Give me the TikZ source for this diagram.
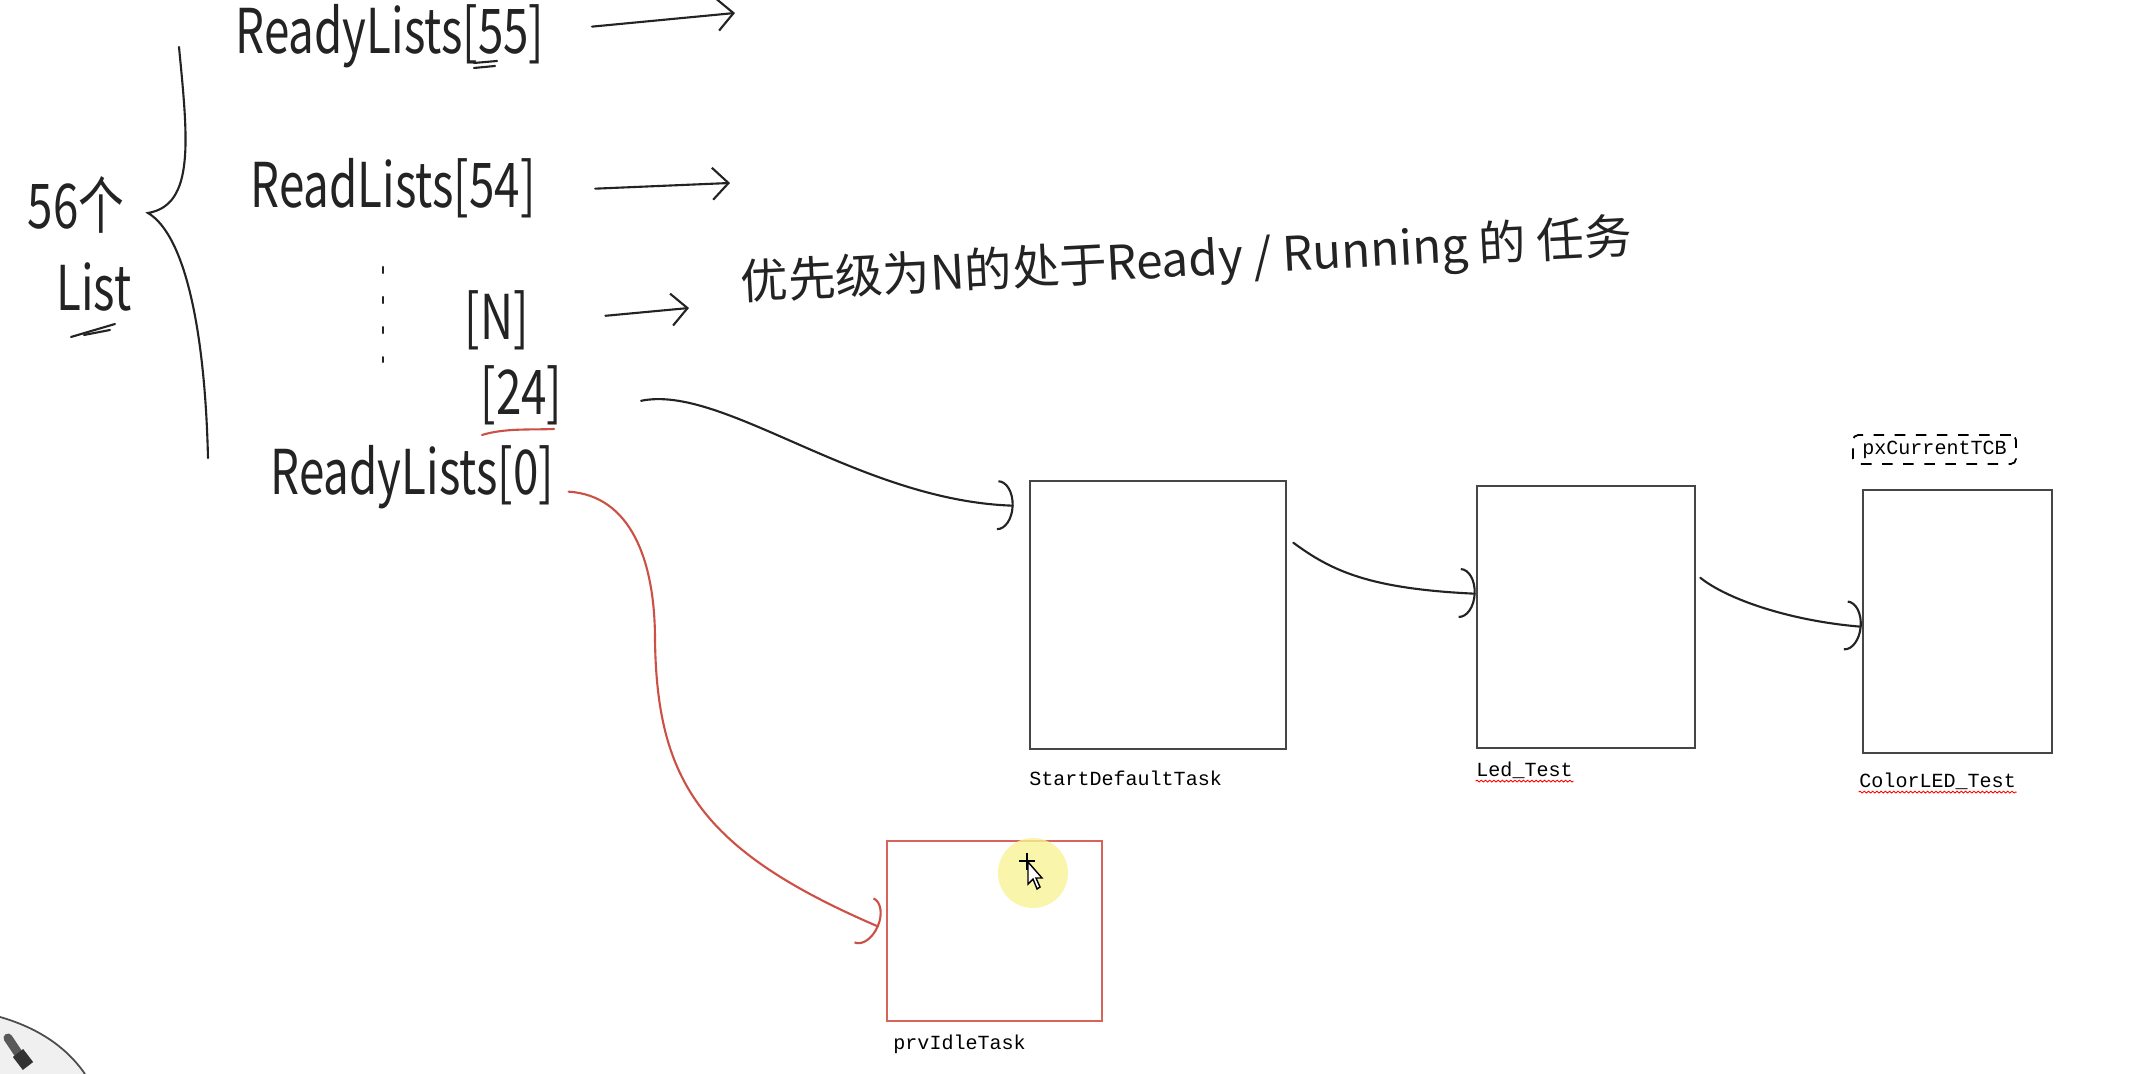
\documentclass[tikz,border=0pt]{standalone}
\usepackage{fontspec}
\usepackage{graphicx}
\usetikzlibrary{positioning,arrows.meta,decorations.pathmorphing}
\newfontfamily\cjk{Noto Sans CJK SC}
\newfontfamily\mono{Liberation Mono}
\newcommand{\tall}[1]{\scalebox{1}[1.35]{#1}}
\definecolor{pen}{RGB}{35,35,35}
\definecolor{redpen}{RGB}{205,80,70}
\definecolor{redbox}{RGB}{215,100,90}
\definecolor{boxline}{RGB}{70,70,70}
\definecolor{marker}{RGB}{248,243,150}

\tikzset{
  hand/.style={font=\cjk\fontsize{13}{13}\selectfont, inner sep=0pt, anchor=base west, text=pen},
  stroke/.style={draw=pen, line width=0.6pt, line cap=round},
  harrow/.style={stroke, -{Straight Barb[length=1.6mm,width=3.2mm]}},
  hookarrow/.style={stroke, -{Arc Barb[length=1.6mm,width=5mm]}},
  taskbox/.style={draw=boxline, line width=0.7pt, inner sep=0pt},
  lbl/.style={font=\mono\fontsize{5.7}{6}\selectfont, inner sep=0pt, text=black},
  spell/.style={draw=red, line width=0.25pt, decorate,
    decoration={snake, amplitude=0.25pt, segment length=1.2pt}}
}

\begin{document}
\begin{tikzpicture}[x=0.01cm, y=-0.01cm]
  % background, fixes the size
  \useasboundingbox (0,0) rectangle (2136,1074);
  \fill[white] (0,0) rectangle (2136,1074);

  % 56 lists and the brace
  \node[hand, anchor=center] (n56) at (76,205) {\tall{56个}};
  \node[hand, anchor=center] (lst) at (94,287) {\tall{List}};
  \draw[stroke] (71,337) -- (115,324);
  \draw[stroke] (84,335) -- (110,330);
  \draw[stroke] (179,47) .. controls (188,140) and (195,205) .. (148,213)
                         .. controls (185,235) and (205,330) .. (208,458);

  % ready lists
  \node[hand] (r55) at (235,54) {\tall{ReadyLists[55]}};
  \node[hand] (r54) at (250,208) {\tall{ReadLists[54]}};
  \node[hand] (rN) at (464,340) {\tall{[N]}};
  \node[hand] (r24) at (480,415) {\tall{[24]}};
  \node[hand] (r0) at (270,495) {\tall{ReadyLists[0]}};
  \draw[stroke] (474,63) -- (497,61);
  \draw[stroke] (474,68) -- (495,66);
  \draw[stroke, dash pattern=on 0.6mm off 2.4mm] (383,267) -- (383,362);
  \draw[stroke, draw=redpen] (482,435) .. controls (505,428) and (530,430) .. (554,429);

  \node[hand, font=\cjk\fontsize{13.5}{14}\selectfont, rotate=3] (desc) at (741,300)
    {优先级为N的处于Ready / Running 的 任务};

  % arrows to the right
  \coordinate (e55) at (735,13);
  \coordinate (e54) at (730,183);
  \coordinate (eN) at (689,308);
  \draw[harrow] ([xshift=0.47cm,yshift=0.1cm]r55.east) -- (e55);
  \draw[harrow] ([xshift=0.59cm]r54.east) -- (e54);
  \draw[harrow] ([xshift=0.76cm,yshift=0.05cm]rN.east) -- (eN);

  % tasks
  \node[taskbox, minimum width=2.56cm, minimum height=2.68cm] (t1) at (1158,615) {};
  \node[taskbox, minimum width=2.18cm, minimum height=2.62cm] (t2) at (1586,617) {};
  \node[taskbox, minimum width=1.89cm, minimum height=2.63cm] (t3) at (1957.5,621.5) {};
  \node[taskbox, draw=redbox, minimum width=2.15cm, minimum height=1.80cm] (idle) at (994.5,931) {};
  \node[lbl, draw=black, dashed, line width=0.5pt, rounded corners=1.5pt,
        minimum width=1.63cm, minimum height=0.29cm] (tcb) at (1934.5,449.5) {pxCurrentTCB};

  \node[lbl, below right=0.2cm and 0cm of t1.south west] (l1) {StartDefaultTask};
  \node[lbl, below right=0.12cm and 0cm of t2.south west] (l2) {Led\_Test};
  \node[lbl, below right=0.18cm and -0.03cm of t3.south west] (l3) {ColorLED\_Test};
  \node[lbl, below right=0.12cm and 0.07cm of idle.south west] (l4) {prvIdleTask};
  \draw[spell] ([yshift=-1.3pt]l2.base west) -- ([yshift=-1.3pt]l2.base east);
  \draw[spell] ([yshift=-1.3pt]l3.base west) -- ([yshift=-1.3pt]l3.base east);

  % links
  \draw[hookarrow] ([xshift=0.78cm,yshift=-0.05cm]r24.east)
    .. controls +(82,-17) and +(-155,-5) .. ([xshift=-0.15cm,yshift=-0.26cm]t1.north west);
  \draw[hookarrow] ([xshift=0.06cm,yshift=-0.63cm]t1.north east)
    .. controls +(38,28) and +(-107,-5) .. ([yshift=-1.09cm]t2.north west);
  \draw[hookarrow] ([xshift=0.04cm,yshift=-0.93cm]t2.north east)
    .. controls +(26,21) and +(-73,-6) .. ([yshift=-1.38cm]t3.north west);
  \draw[hookarrow, draw=redpen] ([xshift=0.14cm,yshift=-0.14cm]r0.east)
    .. controls +(62,4) and (655,560) .. (655,640)
    .. controls (657,780) and (700,850) .. ([xshift=-0.07cm,yshift=-0.87cm]idle.north west);

  % pointer
  \fill[marker, opacity=0.8] (1033,873) circle (0.35cm);
  \draw[black, line width=0.5pt] (1019,861) -- (1035,861) (1027,853) -- (1027,870);
  \filldraw[fill=white, draw=black, line width=0.4pt] (1028,862) -- (1028,884) -- (1033,879)
    -- (1037,889) -- (1040,887) -- (1036,878) -- (1042,878) -- cycle;

  % corner gadget
  \fill[gray!12] (0,1017) .. controls (35,1027) and (65,1045) .. (85,1074) -- (0,1074) -- cycle;
  \draw[gray!60!black, line width=0.5pt] (0,1017) .. controls (35,1027) and (65,1045) .. (85,1074);
  \draw[gray!70!black, line width=0.09cm, line cap=round] (8,1038) -- (18,1053);
  \draw[gray!40!black, line width=0.13cm] (18,1053) -- (28,1066);
\end{tikzpicture}
\end{document}
